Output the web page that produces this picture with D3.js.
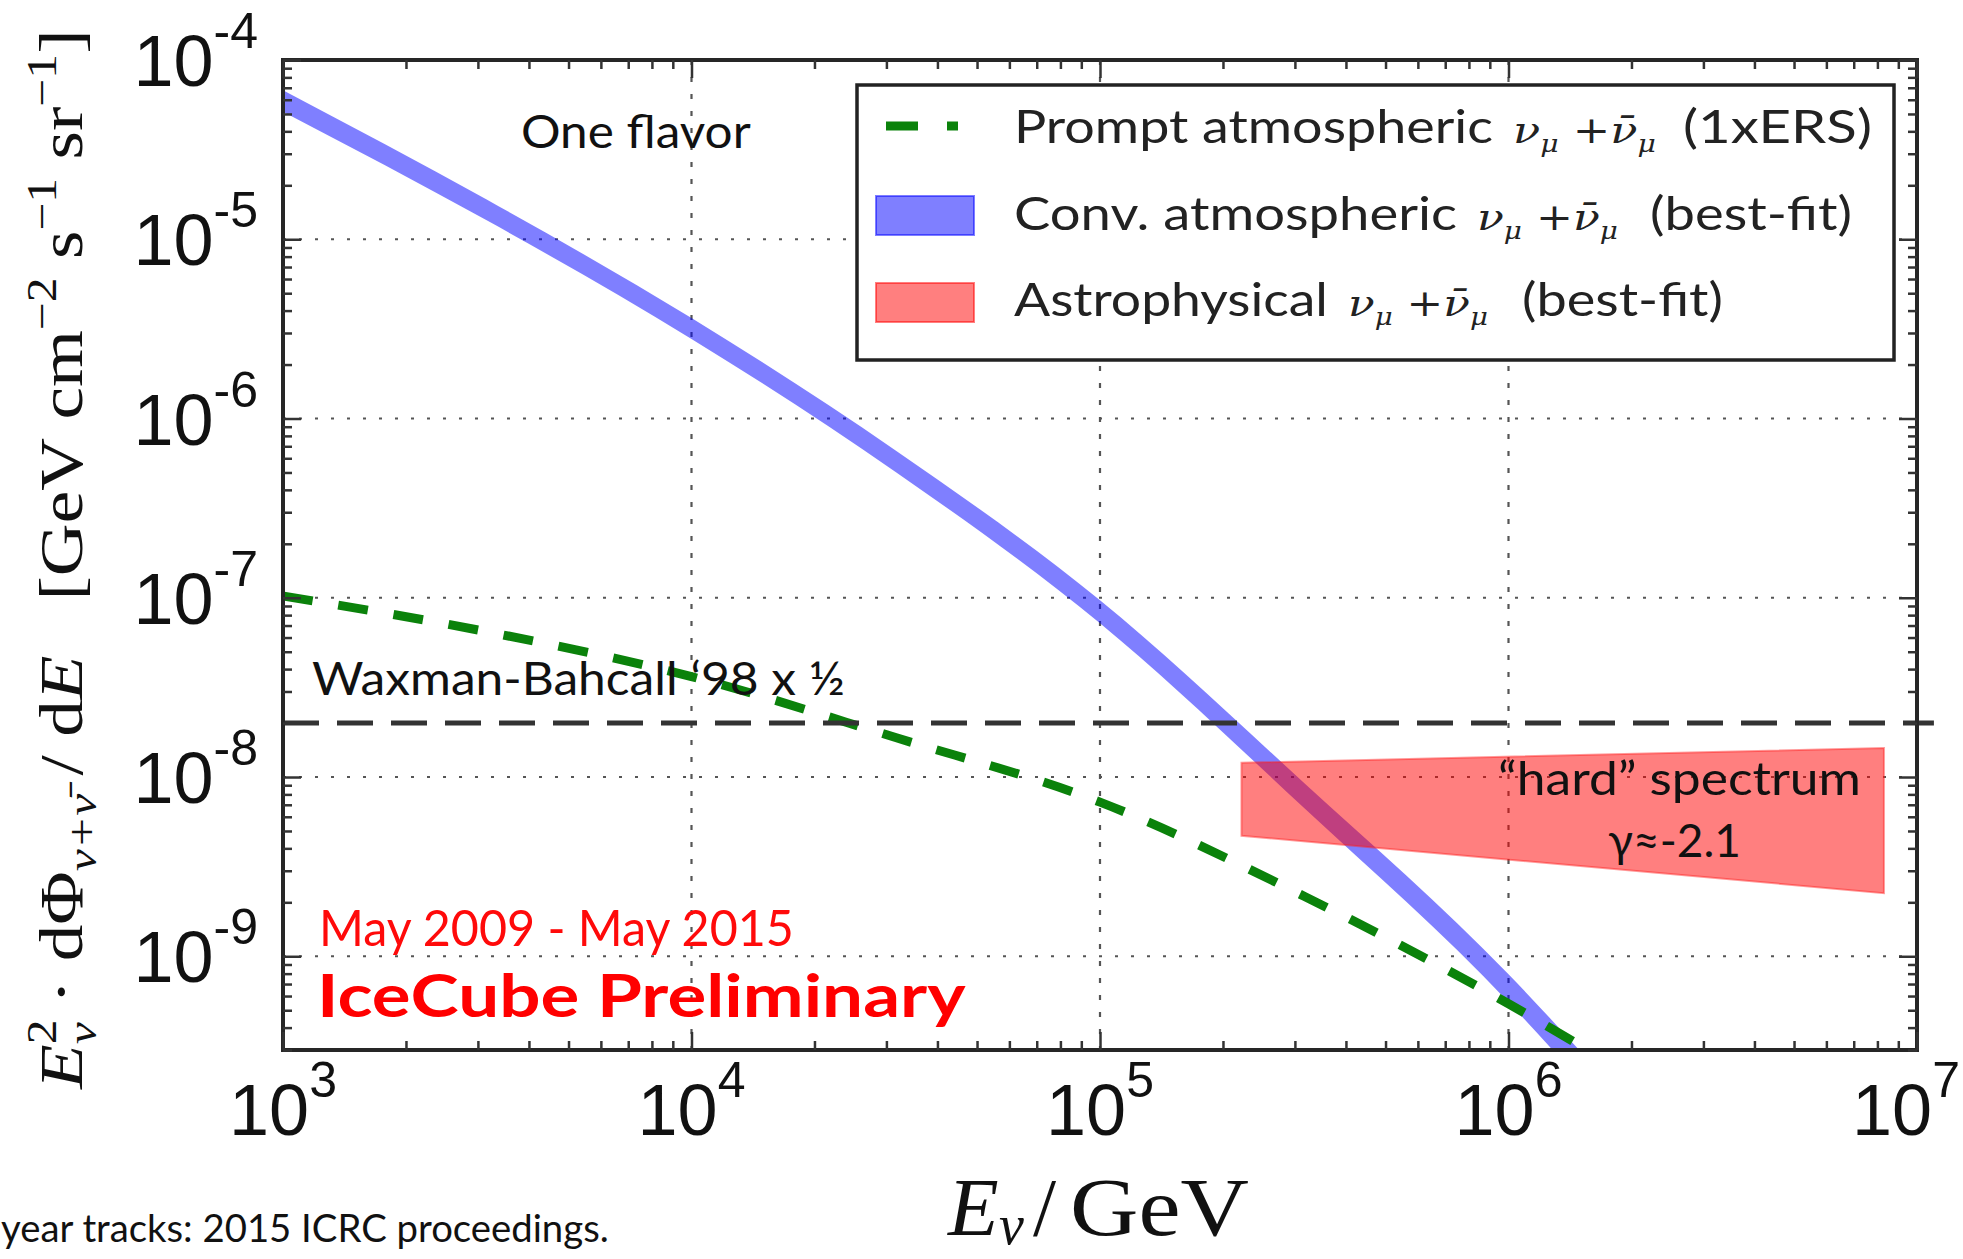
<!DOCTYPE html>
<html><head><meta charset="utf-8">
<script src="https://cdn.jsdelivr.net/npm/d3@7"></script>
<style>body{margin:0;background:#fff}svg{display:block}</style>
</head><body>
<svg id="chart" width="1963" height="1259"></svg>
<script>
// ---------------- data ----------------
const xDomain = [1e3, 1e7];            // GeV
const yDomain = [3e-10, 1e-4];         // GeV cm^-2 s^-1 sr^-1
const xTicks = [1e3, 1e4, 1e5, 1e6, 1e7];
const xTickExp = ["3", "4", "5", "6", "7"];
const yTicks = [1e-4, 1e-5, 1e-6, 1e-7, 1e-8, 1e-9];
const yTickExp = ["-4", "-5", "-6", "-7", "-8", "-9"];

// Conventional atmospheric (best-fit band)
const convE    = [1.0e3, 3.16e3, 1.0e4, 3.16e4, 1.0e5, 3.16e5, 1.0e6, 1.78e6];
const convLow  = [5.15e-5, 1.271e-5, 2.780e-6, 5.035e-7, 7.211e-8, 6.714e-9, 5.546e-10, 1.294e-10];
const convHigh = [6.79e-5, 1.660e-5, 3.631e-6, 6.637e-7, 9.683e-8, 9.268e-9, 7.943e-10, 1.914e-10];

// Prompt atmospheric (1xERS)
const promptE    = [1.0e3, 3.16e3, 1.0e4, 3.16e4, 1.0e5, 3.16e5, 1.0e6, 2.0e6];
const promptFlux = [1.023e-7, 6.457e-8, 3.631e-8, 1.66e-8, 7.244e-9, 2.163e-9, 5.433e-10, 2.138e-10];

// Astrophysical (best-fit, hard spectrum)
const astroE    = [2.22e5, 8.3e6];
const astroHigh = [1.2e-8, 1.45e-8];
const astroLow  = [4.7e-9, 2.25e-9];

// Waxman-Bahcall '98 x 1/2
const wbE = [1e3, 1.1e7];
const wbFlux = [2e-8, 2e-8];

const legendLabels = ["Prompt atmospheric", "Conv. atmospheric", "Astrophysical"];
const legendTails  = ["(1xERS)", "(best-fit)", "(best-fit)"];

// ---------------- drawing ----------------
const W = 1963, H = 1259;
const L = 283, R = 1917, T = 60, B = 1050;
const svg = d3.select("#chart");
svg.append("rect").attr("width", W).attr("height", H).attr("fill", "#fff");

const x = d3.scaleLog().domain(xDomain).range([L, R]);
const y = d3.scaleLog().domain(yDomain).range([B, T]);

svg.append("defs").append("clipPath").attr("id", "plotclip")
  .append("rect").attr("x", L).attr("y", T).attr("width", R - L).attr("height", B - T);

// grid
const grid = svg.append("g");
grid.selectAll("line.vg").data(xTicks).join("line").attr("class", "vg")
  .attr("x1", d => x(d)).attr("x2", d => x(d)).attr("y1", T).attr("y2", B)
  .attr("stroke", "#555").attr("stroke-width", 2.2).attr("stroke-dasharray", "5,12");
grid.selectAll("line.hg").data(yTicks).join("line").attr("class", "hg")
  .attr("x1", L).attr("x2", R).attr("y1", d => y(d)).attr("y2", d => y(d))
  .attr("stroke", "#555").attr("stroke-width", 2.2).attr("stroke-dasharray", "3,13");

const plot = svg.append("g").attr("clip-path", "url(#plotclip)");

// conventional band
const convData = convE.map((e, i) => ({e, lo: convLow[i], hi: convHigh[i]}));
plot.append("path").datum(convData)
  .attr("d", d3.area().x(d => x(d.e)).y0(d => y(d.lo)).y1(d => y(d.hi)).curve(d3.curveMonotoneX))
  .attr("fill", "#0000ff").attr("fill-opacity", 0.5);

// astrophysical band
const astroData = astroE.map((e, i) => ({e, lo: astroLow[i], hi: astroHigh[i]}));
plot.append("path").datum(astroData)
  .attr("d", d3.area().x(d => x(d.e)).y0(d => y(d.lo)).y1(d => y(d.hi)))
  .attr("fill", "#ff0000").attr("fill-opacity", 0.5)
  .attr("stroke", "#ff2020").attr("stroke-opacity", 0.45).attr("stroke-width", 2);

// prompt line
const promptData = promptE.map((e, i) => ({e, f: promptFlux[i]}));
plot.append("path").datum(promptData)
  .attr("d", d3.line().x(d => x(d.e)).y(d => y(d.f)).curve(d3.curveMonotoneX))
  .attr("fill", "none").attr("stroke", "#0b820b").attr("stroke-width", 9)
  .attr("stroke-dasharray", "30,26");

// WB line (extends past the frame)
svg.append("path").datum(wbE.map((e, i) => ({e, f: wbFlux[i]})))
  .attr("d", d3.line().x(d => x(d.e)).y(d => y(d.f)))
  .attr("fill", "none").attr("stroke", "#333").attr("stroke-width", 5)
  .attr("stroke-dasharray", "36,18");

// frame
svg.append("rect").attr("x", L).attr("y", T).attr("width", R - L).attr("height", B - T)
  .attr("fill", "none").attr("stroke", "#262626").attr("stroke-width", 4);

// ticks (all four sides, inward)
const xMinor = x.ticks().filter(v => !xTicks.some(t => Math.abs(t - v) / t < 1e-6));
const yMinor = y.ticks().filter(v => !yTicks.some(t => Math.abs(t - v) / t < 1e-6));
function axisGroup(axis, tx, ty) {
  const g = svg.append("g").attr("transform", `translate(${tx},${ty})`).call(axis);
  g.select(".domain").remove();
  g.selectAll("text").remove();
  g.selectAll("line").attr("stroke", "#333").attr("stroke-width", 2.5);
}
[[xTicks, 18], [xMinor, 9]].forEach(([vals, len]) => {
  axisGroup(d3.axisBottom(x).tickValues(vals).tickSize(-len).tickFormat(""), 0, B);
  axisGroup(d3.axisTop(x).tickValues(vals).tickSize(-len).tickFormat(""), 0, T);
});
[[yTicks, 18], [yMinor, 9]].forEach(([vals, len]) => {
  axisGroup(d3.axisLeft(y).tickValues(vals).tickSize(-len).tickFormat(""), L, 0);
  axisGroup(d3.axisRight(y).tickValues(vals).tickSize(-len).tickFormat(""), R, 0);
});

// tick labels
const tickFont = "'Liberation Sans', Arial, sans-serif";
svg.append("g").selectAll("text").data(xTicks).join("text")
  .attr("x", (d, i) => Math.min(x(d), 1906)).attr("y", 1135).attr("text-anchor", "middle")
  .attr("font-family", tickFont).attr("font-size", 72).attr("fill", "#111")
  .each(function(d, i) {
    const t = d3.select(this);
    t.append("tspan").text("10");
    t.append("tspan").attr("font-size", 50).attr("dy", -38).text(xTickExp[i]);
  });
svg.append("g").selectAll("text").data(yTicks).join("text")
  .attr("x", 258).attr("y", d => y(d) + 26).attr("text-anchor", "end")
  .attr("font-family", tickFont).attr("font-size", 72).attr("fill", "#111")
  .each(function(d, i) {
    const t = d3.select(this);
    t.append("tspan").text("10");
    t.append("tspan").attr("font-size", 50).attr("dy", -38).text(yTickExp[i]);
  });

// helper: place text and compress/stretch horizontally to a target width
function fit(t, x0, y0, w) {
  t.attr("transform", `translate(${x0},${y0})`);
  const bw = t.node().getBBox().width;
  t.attr("transform", `translate(${x0},${y0}) scale(${w / bw},1)`);
  return t;
}
const sans = "Lato, 'Open Sans', sans-serif";
const serif = "'Liberation Serif', 'DejaVu Serif', serif";
const mathSerif = "'DejaVu Serif', 'Liberation Serif', serif";

function sansText(str, x0, y0, w, size, fill, weight) {
  const t = svg.append("text").attr("font-family", sans).attr("font-size", size)
    .attr("fill", fill || "#111").attr("font-weight", weight || 400).text(str);
  return fit(t, x0, y0, w);
}
function mathNu(x0, y0, w) {
  const t = svg.append("text").attr("font-family", mathSerif).attr("font-size", 38).attr("fill", "#222");
  t.append("tspan").attr("font-style", "italic").text("ν");
  t.append("tspan").attr("font-style", "italic").attr("font-size", 24).attr("dy", 9).text("μ");
  t.append("tspan").attr("dy", -9).text("\u00a0+");
  t.append("tspan").attr("font-style", "italic").text("ν\u0304");
  t.append("tspan").attr("font-style", "italic").attr("font-size", 24).attr("dy", 9).text("μ");
  return fit(t, x0, y0, w);
}

// annotations
sansText("One flavor", 521, 148, 230, 46);
sansText("Waxman-Bahcall \u201898 x \u00bd", 312, 695, 533, 46);
sansText("May 2009 - May 2015", 319, 946, 475, 50, "#ff0a0a");
sansText("IceCube Preliminary", 317, 1017, 649, 60, "#ff0000", 700);
sansText("\u201chard\u201d spectrum", 1498, 795, 363, 47);
sansText("\u03b3\u2248-2.1", 1608, 857, 133, 47);
sansText("year tracks: 2015 ICRC proceedings.", 1, 1242, 608, 39);

// legend
svg.append("rect").attr("x", 857).attr("y", 85).attr("width", 1037).attr("height", 275)
  .attr("fill", "#fff").attr("stroke", "#222").attr("stroke-width", 3.5);
svg.append("line").attr("x1", 886).attr("x2", 958).attr("y1", 126).attr("y2", 126)
  .attr("stroke", "#0b820b").attr("stroke-width", 9).attr("stroke-dasharray", "32,29");
svg.append("rect").attr("x", 876).attr("y", 196).attr("width", 98).attr("height", 39)
  .attr("fill", "#0000ff").attr("fill-opacity", 0.5).attr("stroke", "#0000ff").attr("stroke-opacity", 0.5).attr("stroke-width", 2);
svg.append("rect").attr("x", 876).attr("y", 283).attr("width", 98).attr("height", 39)
  .attr("fill", "#ff0000").attr("fill-opacity", 0.5).attr("stroke", "#ff0000").attr("stroke-opacity", 0.5).attr("stroke-width", 2);

const legRows = [
  {y: 143, w1: 479, mx: 1513, mw: 143, tx: 1683, tw: 189},
  {y: 230, w1: 443, mx: 1477, mw: 141, tx: 1650, tw: 202},
  {y: 316, w1: 314, mx: 1348, mw: 140, tx: 1522, tw: 201}
];
legRows.forEach((r, i) => {
  sansText(legendLabels[i], 1014, r.y, r.w1, 46, "#222");
  mathNu(r.mx, r.y, r.mw);
  sansText(legendTails[i], r.tx, r.y, r.tw, 46, "#222");
});

// x-axis label
svg.append("text").attr("font-family", serif).attr("font-size", 83).attr("fill", "#111")
  .attr("font-style", "italic").attr("x", 948).attr("y", 1235).text("E");
svg.append("text").attr("font-family", serif).attr("font-size", 56).attr("fill", "#111")
  .attr("font-style", "italic").attr("x", 999).attr("y", 1244).text("ν");
svg.append("text").attr("font-family", serif).attr("font-size", 83).attr("fill", "#111")
  .attr("x", 1033).attr("y", 1235).text("/");
fit(svg.append("text").attr("font-family", serif).attr("font-size", 83).attr("fill", "#111").text("GeV"),
  1070, 1235, 179);

// y-axis label (rotated)
const yl = svg.append("text").attr("font-family", serif).attr("font-size", 62).attr("fill", "#111");
yl.append("tspan").attr("font-style", "italic").text("E");
yl.append("tspan").attr("font-size", 42).attr("dy", -26).text("2");
yl.append("tspan").attr("font-style", "italic").attr("font-size", 42).attr("dx", -21).attr("dy", 40).text("ν");
yl.append("tspan").attr("dy", -14).text("\u00a0·\u00a0d");
yl.append("tspan").text("Φ");
yl.append("tspan").attr("font-style", "italic").attr("font-size", 42).attr("dy", 14).text("ν+ν\u0304");
yl.append("tspan").attr("dy", -14).text("\u00a0/\u00a0d");
yl.append("tspan").attr("font-style", "italic").text("E");
yl.append("tspan").text("\u00a0\u00a0\u00a0[GeV\u00a0cm");
yl.append("tspan").attr("font-size", 42).attr("dy", -26).text("\u22122");
yl.append("tspan").attr("dy", 26).text("\u00a0s");
yl.append("tspan").attr("font-size", 42).attr("dy", -26).text("\u22121");
yl.append("tspan").attr("dy", 26).text("\u00a0sr");
yl.append("tspan").attr("font-size", 42).attr("dy", -26).text("\u22121");
yl.append("tspan").attr("dy", 26).text("]");
yl.attr("transform", "translate(82,1089) rotate(-90)");
{
  const bw = yl.node().getBBox().width;
  yl.attr("transform", `translate(82,1089) rotate(-90) scale(${1061 / bw},1)`);
}
</script>
</body></html>
